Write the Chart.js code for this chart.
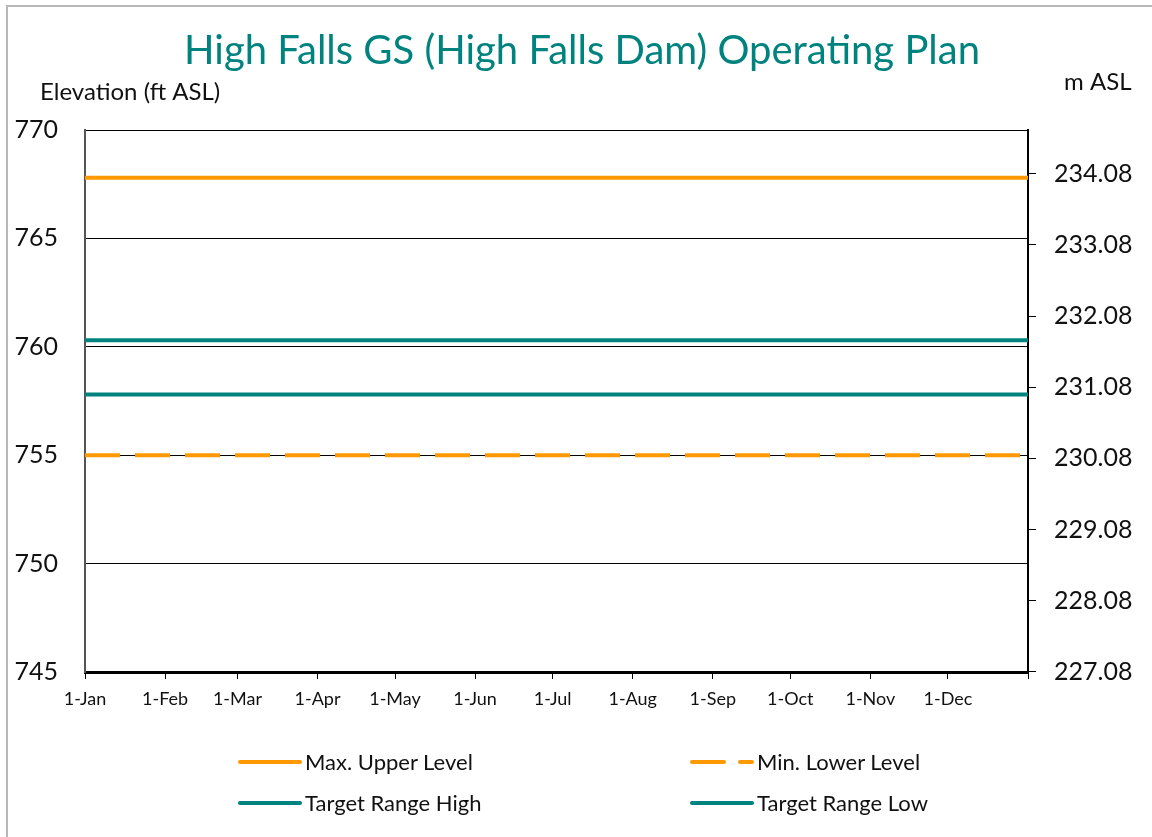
<!DOCTYPE html>
<html>
<head>
<meta charset="utf-8">
<script src="https://cdn.jsdelivr.net/npm/chart.js@4/dist/chart.umd.min.js"></script>
<style>
  body { margin: 0; background: #fff; font-family: Lato, sans-serif; }
  #wrap { position: relative; width: 1152px; height: 837px; overflow: hidden; }
  #frame { position: absolute; left: 6px; top: 5px; width: 1170px; height: 860px; border: 2px solid #b8b8b8; }
  canvas { position: absolute; left: 0; top: 0; }
  .leg { position: absolute; font-size: 22px; color: #111; height: 26px; line-height: 26px; }
  .leg svg { position: absolute; left: 0; top: 5px; }
  .leg span { position: absolute; left: 67px; white-space: nowrap; }
</style>
</head>
<body>
<div id="wrap">
  <div id="frame"></div>
  <canvas id="plan" width="1152" height="837"></canvas>
  <div class="leg" style="left:238px; top:749px;">
    <svg width="66" height="16"><line x1="2" y1="8" x2="62" y2="8" stroke="#ff9900" stroke-width="4" stroke-linecap="round"/></svg>
    <span>Max. Upper Level</span>
  </div>
  <div class="leg" style="left:690px; top:749px;">
    <svg width="66" height="16"><line x1="2" y1="8" x2="34" y2="8" stroke="#ff9900" stroke-width="4" stroke-linecap="round"/><line x1="50" y1="8" x2="62" y2="8" stroke="#ff9900" stroke-width="4" stroke-linecap="round"/></svg>
    <span>Min. Lower Level</span>
  </div>
  <div class="leg" style="left:238px; top:790px;">
    <svg width="66" height="16"><line x1="2" y1="8" x2="62" y2="8" stroke="#00837f" stroke-width="4" stroke-linecap="round"/></svg>
    <span>Target Range High</span>
  </div>
  <div class="leg" style="left:690px; top:790px;">
    <svg width="66" height="16"><line x1="2" y1="8" x2="62" y2="8" stroke="#00837f" stroke-width="4" stroke-linecap="round"/></svg>
    <span>Target Range Low</span>
  </div>
</div>
<script>
// day of year, start and end of the plan
const planDays = [0, 365];

// elevations in ft ASL
const maxUpperLevel = [767.8, 767.8];
const minLowerLevel = [755, 755];
const targetHigh = [760.3, 760.3];
const targetLow = [757.8, 757.8];

// x axis ticks (day of year) and labels
const monthDays = [0, 31, 59, 90, 120, 151, 181, 212, 243, 273, 304, 334, 365];
const monthLabels = ['1-Jan', '1-Feb', '1-Mar', '1-Apr', '1-May', '1-Jun', '1-Jul', '1-Aug', '1-Sep', '1-Oct', '1-Nov', '1-Dec', ''];

// axis ranges and tick values
const ftTicks = [745, 750, 755, 760, 765, 770];
const mTicks = [227.08, 228.08, 229.08, 230.08, 231.08, 232.08, 233.08, 234.08];
const FT_PER_M = 3.28084;

const orange = '#ff9900';
const teal = '#00837f';
const fontName = 'Lato, sans-serif';

function toPoints(values) {
  return planDays.map((d, i) => ({ x: d, y: values[i] }));
}

const textPlugin = {
  id: 'headings',
  afterDraw(chart) {
    const ctx = chart.ctx;
    ctx.save();
    ctx.textBaseline = 'alphabetic';
    ctx.fillStyle = teal;
    ctx.font = '40px ' + fontName;
    ctx.textAlign = 'center';
    ctx.fillText('High Falls GS (High Falls Dam) Operating Plan', 582, 64);

    ctx.fillStyle = '#111';
    ctx.font = '24px ' + fontName;
    ctx.textAlign = 'left';
    ctx.fillText('Elevation (ft ASL)', 40, 100);
    ctx.fillText('m ASL', 1064, 90);
    ctx.restore();
  }
};

const ctx = document.getElementById('plan').getContext('2d');
new Chart(ctx, {
  type: 'line',
  data: {
    datasets: [
      { label: 'Max. Upper Level', data: toPoints(maxUpperLevel), borderColor: orange, borderWidth: 4, pointRadius: 0 },
      { label: 'Min. Lower Level', data: toPoints(minLowerLevel), borderColor: orange, borderWidth: 4, borderDash: [35, 15], pointRadius: 0 },
      { label: 'Target Range High', data: toPoints(targetHigh), borderColor: teal, borderWidth: 4, pointRadius: 0 },
      { label: 'Target Range Low', data: toPoints(targetLow), borderColor: teal, borderWidth: 4, pointRadius: 0 }
    ]
  },
  options: {
    responsive: false,
    animation: false,
    layout: { padding: { top: 130, left: 0, right: 0, bottom: 0 } },
    plugins: {
      legend: { display: false },
      tooltip: { enabled: false }
    },
    scales: {
      x: {
        type: 'linear',
        min: 0,
        max: 365,
        afterBuildTicks: (axis) => { axis.ticks = monthDays.map(v => ({ value: v })); },
        afterFit: (axis) => { axis.height = 165; },
        grid: { drawOnChartArea: false, drawTicks: true, tickLength: 7, color: '#000' },
        border: { display: true, color: '#000', width: 3 },
        ticks: {
          autoSkip: false,
          maxRotation: 0,
          padding: 9,
          color: '#111',
          font: { family: fontName, size: 18 },
          callback: (value) => monthLabels[monthDays.indexOf(value)]
        }
      },
      y: {
        position: 'left',
        min: 745,
        max: 770,
        afterBuildTicks: (axis) => { axis.ticks = ftTicks.map(v => ({ value: v })); },
        afterFit: (axis) => { axis.width = 85; },
        grid: { drawTicks: false, color: '#000', lineWidth: 1 },
        border: { display: true, color: '#555', width: 2 },
        ticks: {
          padding: 27,
          color: '#111',
          font: { family: fontName, size: 25 }
        }
      },
      y2: {
        position: 'right',
        min: 745 / FT_PER_M,
        max: 770 / FT_PER_M,
        afterBuildTicks: (axis) => { axis.ticks = mTicks.map(v => ({ value: v })); },
        afterFit: (axis) => { axis.width = 124; },
        grid: { drawOnChartArea: false, drawTicks: true, tickLength: 8, color: '#000' },
        border: { display: true, color: '#000', width: 2 },
        ticks: {
          padding: 18,
          color: '#111',
          font: { family: fontName, size: 25 },
          callback: (value) => value.toFixed(2)
        }
      }
    }
  },
  plugins: [textPlugin]
});
</script>
</body>
</html>
